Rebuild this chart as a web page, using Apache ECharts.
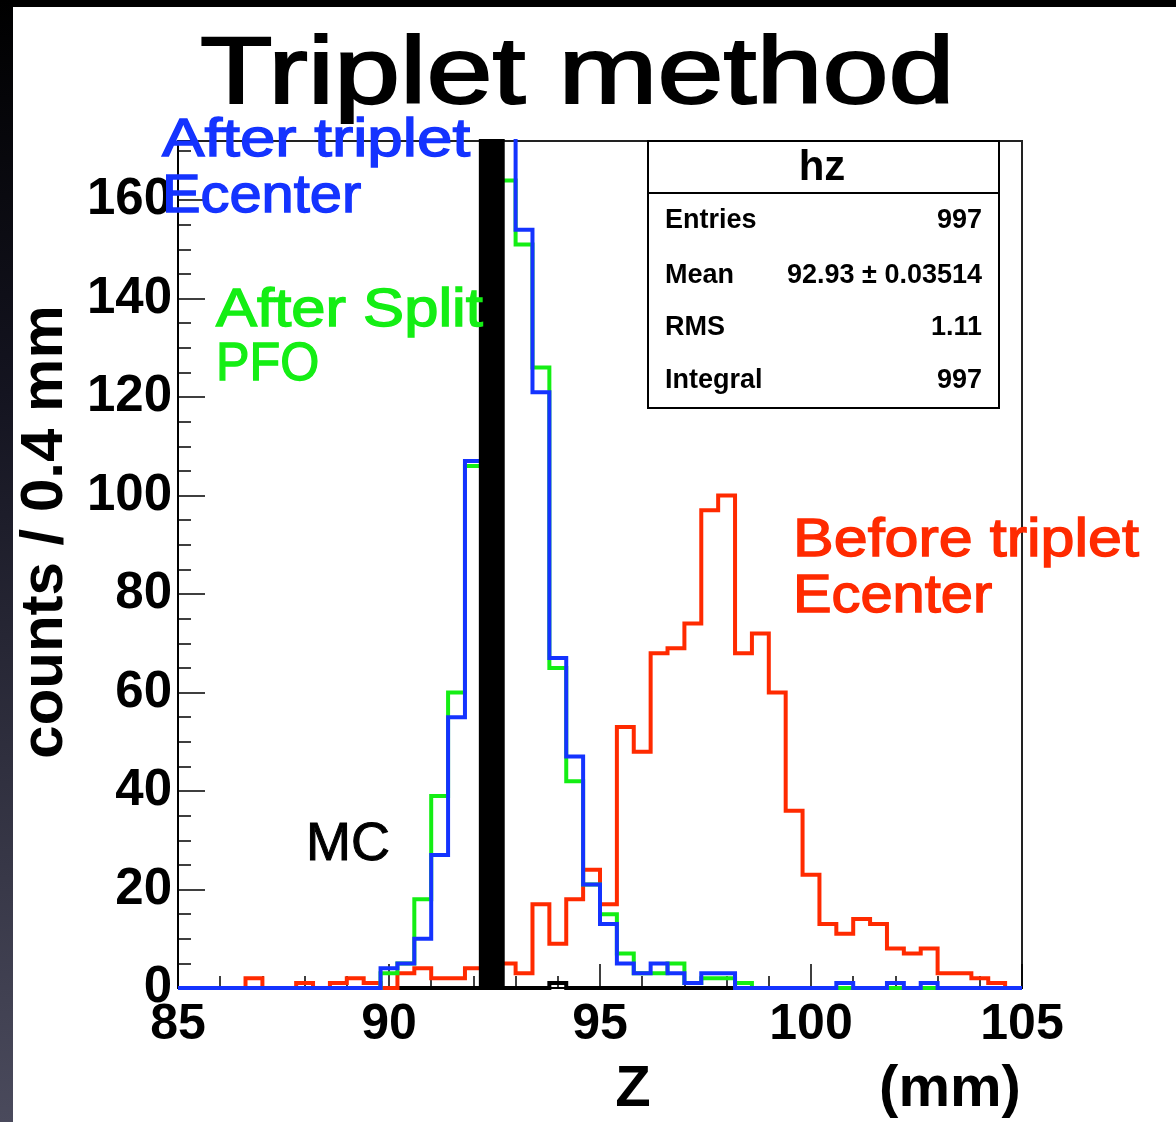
<!DOCTYPE html>
<html>
<head>
<meta charset="utf-8">
<script src="https://cdn.jsdelivr.net/npm/echarts@6/dist/echarts.min.js"></script>
<style>
html,body{margin:0;padding:0;background:#fff;}
#chart{width:1176px;height:1122px;}
</style>
</head>
<body>
<div id="chart"></div>
<script>
// Histogram binning: 50 bins of 0.4 mm from 85 to 105
var binStart = 85;
var binWidth = 0.4;
var xTickLabels = ['85', '90', '95', '100', '105'];
var yTickLabels = ['0', '20', '40', '60', '80', '100', '120', '140', '160'];

// After triplet Ecenter (blue)
var afterTriplet = [0,0,0,0,0,0,0,0,0,0, 0,0,4,5,10,27,55,107,168,174, 154,121,67,47,21,13,5,3,5,3, 1,3,3,0,0,0,0,0,0,1, 0,0,1,0,1,0,0,0,0,0];
// After Split PFO (green)
var afterSplit = [0,0,0,0,0,0,0,0,0,0, 0,0,3,5,18,39,60,106,156,164, 151,126,65,42,21,15,7,3,3,5, 1,2,2,1,0,0,0,0,0,0, 0,0,0,0,0,0,0,0,0,0];
// Before triplet Ecenter (red)
var beforeTriplet = [0,0,0,0,2,0,0,1,0,1, 2,1,0,3,4,2,2,4,6,5, 3,17,9,18,24,17,53,48,68,69, 74,97,100,68,72,60,36,23,13,11, 14,13,8,7,8,3,3,2,1,0];
// MC (black)
var mcTruth = [0,0,0,0,0,0,0,0,0,0, 0,0,0,0,0,0,0,0,990,0, 0,0,1,0,0,0,0,0,0,0, 0,0,0,0,0,0,0,0,0,0, 0,0,0,0,0,0,0,0,0,0];

var statsTitle = 'hz';
var statsLabels = ['Entries', 'Mean', 'RMS', 'Integral'];
var statsValues = ['997', '92.93 \u00b1 0.03514', '1.11', '997'];

function toSteps(vals) {
  var pts = vals.map(function (v, i) { return [+(binStart + i * binWidth).toFixed(2), v]; });
  pts.push([+(binStart + vals.length * binWidth).toFixed(2), vals[vals.length - 1]]);
  return pts;
}

var FONT = '"Liberation Sans", Arial, Helvetica, sans-serif';
var chart = echarts.init(document.getElementById('chart'), null, {renderer: 'canvas'});

function lineSeries(name, vals, color, z) {
  return {
    name: name, type: 'line', step: 'end', data: toSteps(vals),
    showSymbol: false, symbol: 'none', z: z, animation: false,
    lineStyle: {color: color, width: 4, join: 'miter', cap: 'butt'},
    clip: true, silent: true
  };
}

var mcSpikes = mcTruth.map(function (v, i) {
  return [binStart + i * binWidth, binStart + (i + 1) * binWidth, v];
}).filter(function (d) { return d[2] >= 10; });

function label(text, x, y, size, color, sx, weight, strokeW) {
  return {type: 'text', z: 50, x: x, y: y, scaleX: sx, originX: 0, originY: 0,
    style: {x: 0, y: 0, text: text, font: (weight || 'normal') + ' ' + size + 'px ' + FONT, fill: color,
      stroke: color, lineWidth: strokeW || 0, verticalAlign: 'middle', align: 'left'}};
}

var option = {
  backgroundColor: '#ffffff',
  animation: false,
  grid: {left: 178, top: 141, right: 154, bottom: 134, show: true, borderColor: '#222', borderWidth: 2, backgroundColor: 'transparent'},
  xAxis: [{
    type: 'value', min: 85, max: 105, interval: 5,
    axisLine: {show: true, onZero: false, lineStyle: {color: '#000', width: 2}},
    axisTick: {show: true, inside: true, length: 24, lineStyle: {color: '#000', width: 1.5}},
    minorTick: {show: true, splitNumber: 5, length: 12, lineStyle: {color: '#000', width: 1.5}},
    splitLine: {show: false},
    axisLabel: {
      show: true, margin: 12, color: '#000', fontFamily: FONT, fontWeight: 'bold', fontSize: 50,
      formatter: function (v) { var i = Math.round((v - 85) / 5); return xTickLabels[i] !== undefined && Math.abs(v - (85 + 5 * i)) < 1e-6 ? xTickLabels[i] : ''; }
    }
  }],
  yAxis: [{
    type: 'value', min: 0, max: 172, interval: 20,
    axisLine: {show: true, onZero: false, lineStyle: {color: '#000', width: 2}},
    axisTick: {show: true, inside: true, length: 27, lineStyle: {color: '#000', width: 1.5}},
    splitLine: {show: false},
    axisLabel: {
      show: true, margin: 6, color: '#000', fontFamily: FONT, fontWeight: 'bold', fontSize: 51, showMaxLabel: false,
      formatter: function (v) { var i = Math.round(v / 20); return (Math.abs(v - 20 * i) < 1e-6 && yTickLabels[i] !== undefined) ? yTickLabels[i] : ''; }
    }
  }, {
    type: 'value', min: 0, max: 172, interval: 5, position: 'left', offset: 0,
    axisLine: {show: false},
    axisTick: {show: true, inside: true, length: 13, lineStyle: {color: '#000', width: 1.5}},
    axisLabel: {show: false}, splitLine: {show: false}
  }],
  series: [
    lineSeries('MC baseline', mcTruth, '#000000', 1),
    lineSeries('Before triplet Ecenter', beforeTriplet, '#ff2a00', 2),
    lineSeries('After Split PFO', afterSplit, '#14ee14', 3),
    lineSeries('After triplet Ecenter', afterTriplet, '#1433ff', 4),
    {
      name: 'MC', type: 'custom', z: 6, animation: false, silent: true,
      data: mcSpikes,
      renderItem: function (params, api) {
        var p0 = api.coord([api.value(0), api.value(2)]);
        var p1 = api.coord([api.value(1), 0]);
        var cs = params.coordSys;
        var rect = echarts.graphic.clipRectByRect({x: p0[0], y: p0[1], width: p1[0] - p0[0], height: p1[1] - p0[1]},
          {x: cs.x, y: cs.y, width: cs.width, height: cs.height});
        if (!rect) return;
        return {type: 'rect', shape: {x: rect.x - 1, y: rect.y, width: rect.width + 5, height: rect.height},
          style: {fill: '#000', stroke: '#000', lineWidth: 4}};
      }
    }
  ],
  graphic: [
    {type: 'rect', left: 0, top: 0, shape: {width: 1176, height: 7}, style: {fill: '#000'}, z: 100},
    {type: 'rect', left: 0, top: 0, shape: {width: 13, height: 1122},
      style: {fill: new echarts.graphic.LinearGradient(0, 0, 0, 1, [{offset: 0, color: '#000'}, {offset: 0.35, color: '#141420'}, {offset: 1, color: '#4a4a5c'}])}, z: 100},
    label('Triplet method', 200, 77, 95, '#000', 1.25, 'normal', 2),
    label('After triplet', 162, 141, 54, '#1433ff', 1.18, 'normal', 1.4),
    label('Ecenter', 162, 197, 54, '#1433ff', 1.07, 'normal', 1.4),
    label('After Split', 216, 311, 54, '#14ee14', 1.14, 'normal', 1.4),
    label('PFO', 216, 365, 54, '#14ee14', 0.93, 'normal', 1.4),
    label('MC', 306, 845, 54, '#000', 1.0, 'normal', 1.0),
    label('Before triplet', 793, 541, 54, '#ff2a00', 1.13, 'normal', 1.4),
    label('Ecenter', 793, 597, 54, '#ff2a00', 1.07, 'normal', 1.4),
    {type: 'text', z: 50, rotation: Math.PI / 2, x: 45, y: 532, style: {x: 0, y: 0, text: 'counts / 0.4 mm', font: 'bold 60px ' + FONT, fill: '#000', align: 'center', verticalAlign: 'middle'}},
    {type: 'text', z: 50, style: {x: 633, y: 1090, text: 'Z', font: 'bold 58px ' + FONT, fill: '#000', align: 'center', verticalAlign: 'middle'}},
    {type: 'text', z: 50, style: {x: 950, y: 1090, text: '(mm)', font: 'bold 58px ' + FONT, fill: '#000', align: 'center', verticalAlign: 'middle'}},
    // stats box
    {type: 'rect', z: 40, shape: {x: 648, y: 141, width: 351, height: 267}, style: {fill: '#fff', stroke: '#000', lineWidth: 2}},
    {type: 'line', z: 41, shape: {x1: 648, y1: 193, x2: 999, y2: 193}, style: {stroke: '#000', lineWidth: 2}},
    {type: 'text', z: 42, style: {x: 822, y: 168, text: statsTitle, font: 'bold 42px ' + FONT, fill: '#000', align: 'center', verticalAlign: 'middle'}}
  ].concat(statsLabels.map(function (t, i) {
    return {type: 'text', z: 42, style: {x: 665, y: [221, 276, 328, 381][i], text: t, font: 'bold 27px ' + FONT, fill: '#000', align: 'left', verticalAlign: 'middle'}};
  })).concat(statsValues.map(function (t, i) {
    return {type: 'text', z: 42, style: {x: 982, y: [221, 276, 328, 381][i], text: t, font: 'bold 27px ' + FONT, fill: '#000', align: 'right', verticalAlign: 'middle'}};
  }))
};
chart.setOption(option);
</script>
</body>
</html>
